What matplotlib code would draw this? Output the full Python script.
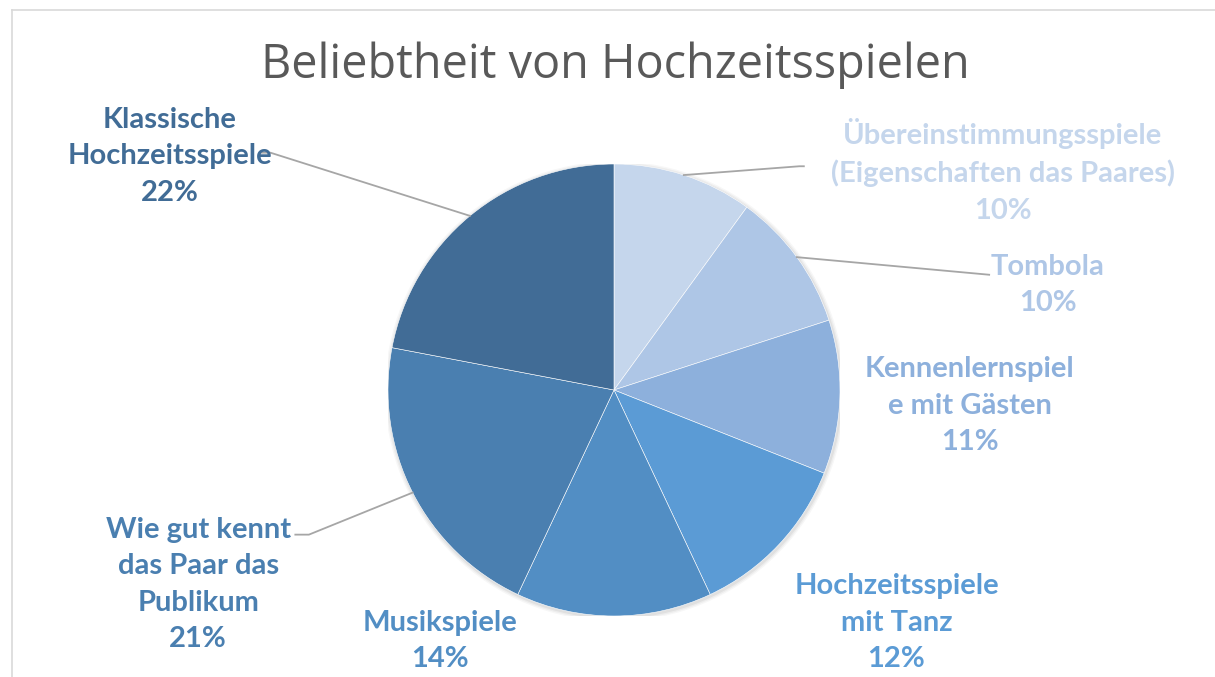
import numpy as np
import matplotlib
matplotlib.use('Agg')
import matplotlib.pyplot as plt
from matplotlib.lines import Line2D

# data, clockwise from 12 o'clock
labels = ['Übereinstimmungsspiele\n(Eigenschaften das Paares)',
          'Tombola',
          'Kennenlernspiel\ne mit Gästen',
          'Hochzeitsspiele\nmit Tanz',
          'Musikspiele',
          'Wie gut kennt\ndas Paar das\nPublikum',
          'Klassische\nHochzeitsspiele']
shares = [10, 10, 11, 12, 14, 21, 22]
colors = ['#c5d6ec', '#aec6e6', '#8db0dc', '#5b9bd5',
          '#528ec4', '#4a7fb0', '#416c96']

# label centres, in pie radius units
label_pos = [(1.72, 0.97), (1.92, 0.465), (1.575, -0.07), (1.25, -1.03),
             (-0.77, -1.11), (-1.84, -0.86), (-1.965, 1.035)]
# leader line elbows
leaders = {0: [(0.82, 0.99), (0.84, 0.99)],
           1: [(1.66, 0.51), (1.66, 0.51)],
           5: [(-1.35, -0.64), (-1.41, -0.64)],
           6: [(-1.52, 1.05), (-1.56, 1.05)]}

W, H = 1215, 677
fig = plt.figure(figsize=(W / 100, H / 100), dpi=100)

# chart frame (cropped)
fig.add_artist(Line2D([12 / W, 1], [1 - 10 / H, 1 - 10 / H], color='#d9d9d9', lw=1.2))
fig.add_artist(Line2D([12 / W, 12 / W], [0, 1 - 10 / H], color='#d9d9d9', lw=1.2))

cx, cy, r = 614, 390, 226
ax = fig.add_axes([(cx - r) / W, (H - cy - r) / H, 2 * r / W, 2 * r / H])

# soft shadow
for k, a in enumerate([0.05, 0.04, 0.03]):
    ax.add_patch(plt.Circle((0.004, -0.006), 1 + 0.006 * (k + 1), color='k',
                            alpha=a, lw=0, zorder=0))

wedges, _ = ax.pie(shares, colors=colors, startangle=90, counterclock=False,
                   radius=1, wedgeprops=dict(edgecolor='white', linewidth=0.4))
for w in wedges:
    w.set_zorder(1)
ax.set_xlim(-1, 1)
ax.set_ylim(-1, 1)
ax.set_aspect('equal')
ax.axis('off')

total = float(sum(shares))
start = 90.0
for i, (lab, val) in enumerate(zip(labels, shares)):
    mid = np.deg2rad(start - 360.0 * (val / 2.0) / total)
    start -= 360.0 * val / total
    tx, ty = label_pos[i]
    ax.text(tx, ty, '%s\n%d%%' % (lab, round(100 * val / total)),
            ha='center', va='center', color=colors[i], fontsize=21,
            fontweight='bold', family='Lato', linespacing=1.5,
            clip_on=False)
    if i in leaders:
        pts = [(np.cos(mid), np.sin(mid))] + leaders[i]
        xs, ys = zip(*pts)
        ax.plot(xs, ys, color='#a6a6a6', lw=1.3, clip_on=False, zorder=2)

fig.text(615 / W, 1 - 65 / H, 'Beliebtheit von Hochzeitsspielen',
         ha='center', va='center', fontsize=33.7, color='#595959',
         family='Open Sans')

fig.savefig('out.png', dpi=100)
